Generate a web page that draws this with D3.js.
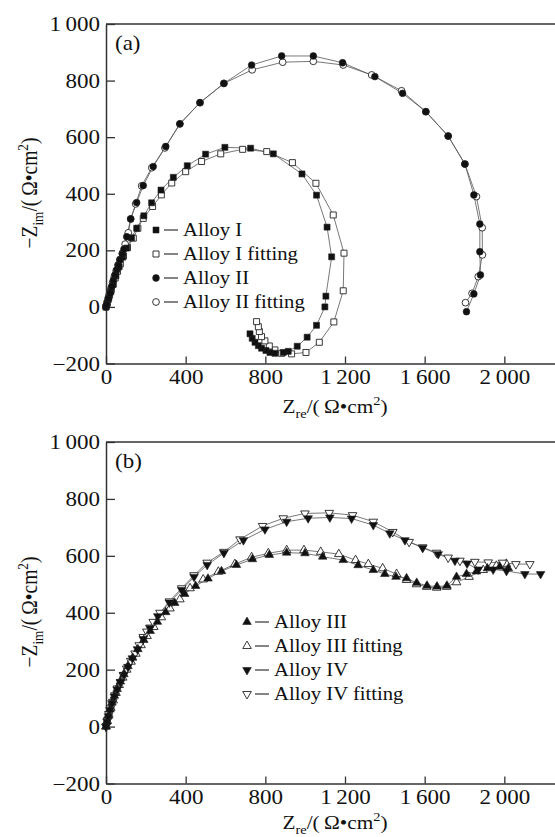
<!DOCTYPE html>
<html>
<head>
<meta charset="utf-8">
<script src="https://cdn.jsdelivr.net/npm/d3@7"></script>
<style>
  html, body { margin: 0; padding: 0; background: #fff; }
  svg { display: block; }
</style>
</head>
<body>
<script>
// Nyquist plots of the alloys: measured impedance and equivalent-circuit fits.
// Each point is [Z_re, -Z_im] in Ω·cm².

const xTickValues = [0, 400, 800, 1200, 1600, 2000];
const xTickLabels = ["0", "400", "800", "1\u2009200", "1\u2009600", "2\u2009000"];
const yTickValues = [-200, 0, 200, 400, 600, 800, 1000];
const yTickLabels = ["\u2212200", "0", "200", "400", "600", "800", "1\u2009000"];

const legendA = ["Alloy I", "Alloy I fitting", "Alloy II", "Alloy II fitting"];
const legendB = ["Alloy III", "Alloy III fitting", "Alloy IV", "Alloy IV fitting"];

const alloyI = [
  [0,0],[6,14],[14,32],[24,54],[36,80],[50,110],[66,142],[84,176],[104,208],[128,244],
  [154,278],[190,322],[229,368],[276,413],[338,458],[408,499],[500,540],[597,564],[726,561],
  [840,541],[984,470],[1057,395],[1110,282],[1133,177],[1104,38],[1099,0],[1057,-65],
  [1010,-107],[960,-139],[915,-157],[890,-161],[848,-164],[823,-161],[803,-154],[781,-146],
  [765,-137],[748,-125],[734,-111],[723,-95]
];
const alloyIFit = [
  [0,0],[5,12],[11,26],[18,42],[26,60],[35,80],[46,102],[58,126],[72,152],[88,180],
  [108,210],[137,243],[160,278],[187,313],[234,355],[278,396],[330,438],[400,478],[480,514],
  [576,541],[686,557],[807,549],[936,510],[1054,437],[1141,325],[1195,190],[1191,57],
  [1144,-53],[1071,-125],[1004,-161],[932,-166],[882,-164],[848,-152],[820,-138],[798,-120],
  [781,-105],[770,-87],[765,-70],[756,-52]
];
const alloyII = [
  [0,0],[3,7],[12,31],[20,48],[28,72],[37,95],[45,113],[54,131],[62,148],[70,166],[82,187],
  [90,204],[104,248],[124,311],[154,369],[187,429],[237,496],[300,567],[371,647],[472,722],
  [592,790],[731,855],[882,887],[1041,887],[1188,863],[1350,814],[1489,755],[1606,690],
  [1718,604],[1802,505],[1847,396],[1877,293],[1877,195],[1880,113],[1847,46],[1810,-17]
];
const alloyIIFit = [
  [0,0],[4,10],[10,26],[17,44],[25,64],[33,86],[42,108],[51,128],[60,148],[70,168],[82,190],
  [96,222],[112,262],[124,311],[149,364],[179,428],[230,492],[296,562],[371,647],[472,722],
  [592,790],[734,838],[887,865],[1041,868],[1191,855],[1334,820],[1484,764],[1606,690],
  [1718,604],[1802,505],[1860,390],[1889,280],[1890,184],[1869,107],[1838,48],[1805,15]
];

const alloyIII = [
  [0,0],[5,18],[12,38],[20,60],[30,84],[42,108],[56,132],[72,158],[90,184],[110,212],
  [134,242],[160,272],[190,304],[222,336],[258,368],[300,402],[345,434],[395,466],[450,494],
  [512,520],[580,546],[655,568],[735,588],[820,603],[907,611],[999,609],[1088,597],[1191,585],
  [1266,567],[1342,550],[1400,536],[1456,526],[1509,521],[1560,505],[1612,495],[1662,492],
  [1712,495],[1760,526],[1810,536],[1860,545],[1915,556],[1977,562],[2020,556]
];
const alloyIIIFit = [
  [0,0],[6,20],[14,42],[24,66],[36,92],[50,118],[66,146],[84,172],[104,200],[126,228],
  [150,256],[176,286],[206,318],[240,350],[278,384],[321,415],[371,447],[422,486],[488,517],
  [564,544],[647,571],[731,595],[815,609],[907,620],[994,620],[1078,614],[1169,606],
  [1253,585],[1317,571],[1389,556],[1459,536],[1509,515],[1559,500],[1610,491],[1660,488],
  [1710,491],[1760,507],[1823,526],[1894,550],[1960,565],[2010,572]
];
const alloyIV = [
  [0,0],[5,17],[12,36],[20,58],[30,82],[42,106],[56,130],[72,156],[90,182],[110,210],
  [132,240],[158,272],[187,308],[221,346],[260,388],[318,436],[380,480],[442,526],[508,568],
  [592,610],[690,655],[798,693],[907,720],[1015,732],[1124,735],[1233,731],[1342,708],
  [1425,679],[1501,655],[1590,628],[1668,606],[1752,583],[1813,573],[1869,552],[1944,552],
  [2011,547],[2103,536],[2182,536]
];
const alloyIVFit = [
  [0,0],[7,22],[14,44],[22,64],[34,87],[45,110],[57,134],[74,157],[87,181],[104,204],
  [124,231],[146,257],[167,286],[187,315],[205,334],[221,348],[237,368],[271,400],[318,440],
  [380,486],[442,532],[508,576],[592,614],[673,658],[786,705],[890,732],[999,749],[1121,751],
  [1238,743],[1342,720],[1440,684],[1522,649],[1590,630],[1660,611],[1718,594],[1777,583],
  [1852,579],[1919,577],[1991,576],[2058,571],[2128,571]
];

// ---------------------------------------------------------------------------
const W = 555, H = 837;
const FONT = "'Liberation Serif','Times New Roman',Times,serif";
const SX = 1.15;            // lettering is set slightly wide
const INK = "#111";
const AXIS = "#333";

const svg = d3.select("body").append("svg")
  .attr("width", W).attr("height", H)
  .attr("font-family", FONT)
  .attr("fill", INK);

const x = d3.scaleLinear().domain([0, 2400]).range([106, 584]);

const sq   = { type: d3.symbolSquare,   size: 36, rot: 0 };
const circ = { type: d3.symbolCircle,   size: 36, rot: 0 };
const up   = { type: d3.symbolTriangle, size: 32, rot: 0 };
const down = { type: d3.symbolTriangle, size: 32, rot: 180 };

const panels = [
  {
    tag: "(a)", top: 24, bottom: 363.5, tagY: 50,
    titleX: 413, titleYc: 193,
    legend: { x: 156, y: 230, labels: legendA },
    series: [
      { data: alloyIFit,  shape: sq,   filled: false },
      { data: alloyIIFit, shape: circ, filled: false },
      { data: alloyI,     shape: sq,   filled: true },
      { data: alloyII,    shape: circ, filled: true }
    ],
    legendOrder: [2, 0, 3, 1]
  },
  {
    tag: "(b)", top: 442, bottom: 783.5, tagY: 468,
    titleX: 829, titleYc: 612,
    legend: { x: 247, y: 622, labels: legendB },
    series: [
      { data: alloyIIIFit, shape: up,   filled: false },
      { data: alloyIVFit,  shape: down, filled: false },
      { data: alloyIII,    shape: up,   filled: true },
      { data: alloyIV,     shape: down, filled: true }
    ],
    legendOrder: [2, 0, 3, 1]
  }
];

// text with sub/superscript pieces
function richText(parent, parts, size) {
  const t = parent.append("text").attr("font-size", size).attr("text-anchor", "middle");
  let shift = 0;
  parts.forEach(p => {
    const target = p.sub ? size * 0.28 : p.sup ? -size * 0.42 : 0;
    t.append("tspan")
      .attr("dy", target - shift)
      .attr("font-size", (p.sub || p.sup) ? size * 0.68 : size)
      .text(p.t);
    shift = target;
  });
  return t;
}

function marker(sel, shape, filled) {
  sel.attr("d", d3.symbol().type(shape.type).size(shape.size)())
    .attr("fill", filled ? "#111" : "#fff")
    .attr("stroke", "#222")
    .attr("stroke-width", filled ? 0.6 : 0.9);
}

panels.forEach(P => {
  const y = d3.scaleLinear().domain([-200, 1000]).range([P.bottom, P.top]);
  const g = svg.append("g");

  // plotting frame: top edge runs off to the right
  g.append("line")
    .attr("x1", x(0)).attr("x2", x(2400))
    .attr("y1", P.top).attr("y2", P.top)
    .attr("stroke", AXIS).attr("stroke-width", 1.5);
  g.append("line")
    .attr("x1", x(2400)).attr("x2", x(2400))
    .attr("y1", P.top).attr("y2", P.bottom)
    .attr("stroke", AXIS).attr("stroke-width", 1.5);

  // left axis, ticks inward
  const ya = g.append("g").attr("transform", `translate(${x(0)},0)`)
    .call(d3.axisLeft(y).tickValues(yTickValues)
      .tickFormat((d, i) => yTickLabels[i])
      .tickSize(-9).tickSizeOuter(0).tickPadding(6));
  ya.select(".domain").attr("stroke", AXIS).attr("stroke-width", 1.5);
  ya.selectAll(".tick line").attr("stroke", AXIS).attr("stroke-width", 1.3);
  ya.selectAll(".tick text")
    .attr("x", null)
    .attr("dy", "0.33em")
    .attr("transform", `translate(-6,0) scale(${SX},1)`)
    .attr("font-size", 20).attr("font-family", FONT).attr("fill", INK);

  // bottom axis, ticks inward
  const xa = g.append("g").attr("transform", `translate(0,${P.bottom})`)
    .call(d3.axisBottom(x).tickValues(xTickValues)
      .tickFormat((d, i) => xTickLabels[i])
      .tickSize(-7).tickSizeOuter(0).tickPadding(6));
  xa.select(".domain").attr("stroke", AXIS).attr("stroke-width", 1.5);
  xa.selectAll(".tick line").attr("stroke", AXIS).attr("stroke-width", 1.3);
  xa.selectAll(".tick text")
    .attr("transform", `scale(${SX},1)`)
    .attr("font-size", 20).attr("font-family", FONT).attr("fill", INK);

  // panel tag
  g.append("text").attr("x", 0).attr("y", 0)
    .attr("transform", `translate(115,${P.tagY}) scale(${SX},1)`)
    .attr("font-size", 20).text(P.tag);

  // axis titles
  const xt = g.append("g").attr("transform", `translate(335,${P.titleX}) scale(${SX * 0.95},1)`);
  richText(xt, [{ t: "Z" }, { t: "re", sub: true }, { t: "/(\u2009\u03A9\u2022cm" }, { t: "2", sup: true }, { t: ")" }], 19.5);

  const yt = g.append("g").attr("transform", `translate(37,${P.titleYc}) scale(${SX},1) rotate(-90)`);
  richText(yt, [{ t: "\u2212Z" }, { t: "im", sub: true }, { t: "/(\u2009\u03A9\u2022cm" }, { t: "2", sup: true }, { t: ")" }], 19.5);

  // curves
  const line = d3.line().x(d => x(d[0])).y(d => y(d[1]));
  P.series.forEach(s => {
    g.append("path").datum(s.data)
      .attr("d", line)
      .attr("fill", "none")
      .attr("stroke", "#555")
      .attr("stroke-width", 0.8);
  });
  P.series.forEach(s => {
    g.append("g").selectAll("path").data(s.data).join("path")
      .attr("transform", d => `translate(${x(d[0])},${y(d[1])}) rotate(${s.shape.rot})`)
      .call(marker, s.shape, s.filled);
  });

  // legend
  const lg = g.append("g");
  P.legendOrder.forEach((si, i) => {
    const s = P.series[si];
    const cy = P.legend.y + i * 24;
    const mx = P.legend.x;
    lg.append("path")
      .attr("transform", `translate(${mx},${cy}) rotate(${s.shape.rot})`)
      .call(marker, s.shape, s.filled);
    lg.append("line")
      .attr("x1", mx + 8).attr("x2", mx + 22)
      .attr("y1", cy).attr("y2", cy)
      .attr("stroke", "#333").attr("stroke-width", 1.2);
    lg.append("text")
      .attr("transform", `translate(${mx + 27},${cy + 6}) scale(${SX},1)`)
      .attr("font-size", 18)
      .text(P.legend.labels[i]);
  });
});
</script>
</body>
</html>
